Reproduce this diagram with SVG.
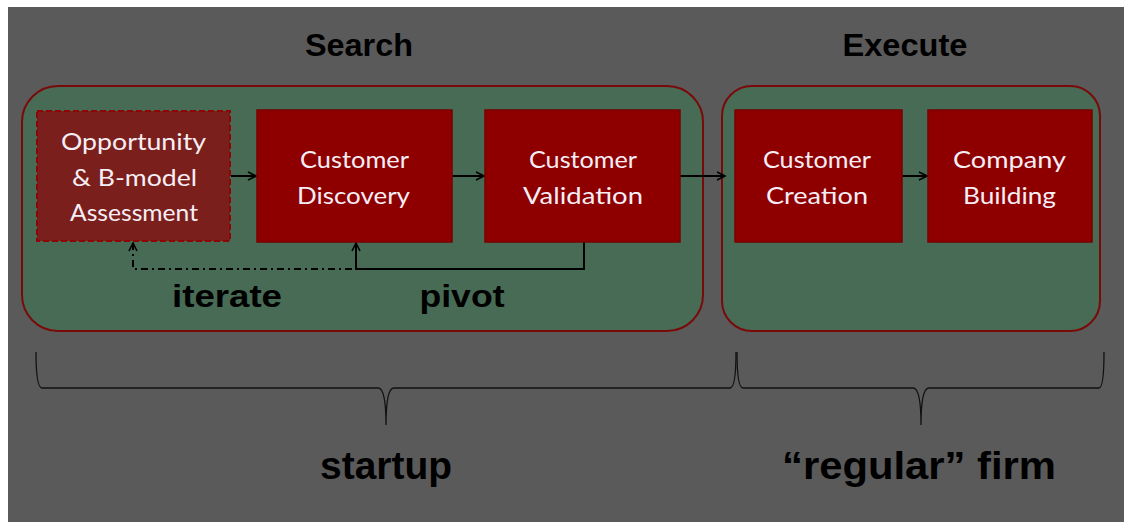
<svg xmlns="http://www.w3.org/2000/svg" width="1124" height="522" viewBox="0 0 1124 522">
<defs>
<style>
.bg{fill:#5a5a5a}
.cont{fill:#476b55;stroke:#7a0a0a;stroke-width:2}
.box{fill:#8e0000;stroke:#7a0000;stroke-width:1.5}
.boxd{fill:#7a1f1b;stroke:#8e0505;stroke-width:2;stroke-dasharray:6 3}
.bt{font-family:Lato,"Noto Sans",sans-serif;font-size:24px;fill:#f6eef6;text-anchor:middle}
.hd{font-family:"Liberation Sans",Arial,sans-serif;font-weight:bold;font-size:32px;fill:#000;text-anchor:middle}
.lb{font-family:"Liberation Sans",Arial,sans-serif;font-weight:bold;font-size:31px;fill:#000;text-anchor:middle}
.bl{font-family:"Liberation Sans",Arial,sans-serif;font-weight:bold;font-size:38px;fill:#000;text-anchor:middle}
.cn{stroke:#000;stroke-width:2;fill:none}
.br{stroke:#111;stroke-width:1.3;fill:none}
</style>
<marker id="ah" viewBox="0 0 10 10" refX="9" refY="5" markerWidth="10" markerHeight="10" markerUnits="userSpaceOnUse" orient="auto">
<path d="M1,1 L9,5 L1,9" fill="none" stroke="#000" stroke-width="1.6"/>
</marker>
</defs>
<rect x="0" y="0" width="1124" height="522" fill="#ffffff"/>
<rect class="bg" x="8" y="7" width="1116" height="515"/>
<text class="hd" x="359" y="56" textLength="108" lengthAdjust="spacingAndGlyphs">Search</text>
<text class="hd" x="905" y="56" textLength="125" lengthAdjust="spacingAndGlyphs">Execute</text>
<g id="search">
<rect class="cont" x="22" y="86" width="681" height="245" rx="36" ry="36"/>
</g>
<g id="execute">
<rect class="cont" x="722" y="86" width="378" height="245" rx="30" ry="30"/>
</g>
<g id="connectors">
<line class="cn" x1="231" y1="176" x2="256" y2="176" marker-end="url(#ah)"/>
<line class="cn" x1="452" y1="176" x2="484" y2="176" marker-end="url(#ah)"/>
<line class="cn" x1="680" y1="176" x2="725" y2="176" marker-end="url(#ah)"/>
<line class="cn" x1="902" y1="176" x2="927" y2="176" marker-end="url(#ah)"/>
<polyline class="cn" points="584,242 584,269 356,269 356,243" marker-end="url(#ah)"/>
<polyline class="cn" points="352,269 133,269 133,243" stroke-dasharray="7 4 2 4" marker-end="url(#ah)"/>
</g>
<g id="opportunity">
<rect class="boxd" x="37" y="111" width="193" height="130"/>
<text class="bt" x="133.5" y="150" textLength="145" lengthAdjust="spacingAndGlyphs">Opportunity</text>
<text class="bt" x="134.5" y="186" textLength="125" lengthAdjust="spacingAndGlyphs">&amp; B-model</text>
<text class="bt" x="134" y="221" textLength="128" lengthAdjust="spacingAndGlyphs">Assessment</text>
</g>
<g id="discovery">
<rect class="box" x="257" y="110" width="195" height="132"/>
<text class="bt" x="354.5" y="168" textLength="109" lengthAdjust="spacingAndGlyphs">Customer</text>
<text class="bt" x="353.5" y="204" textLength="113" lengthAdjust="spacingAndGlyphs">Discovery</text>
</g>
<g id="validation">
<rect class="box" x="485" y="110" width="195" height="132"/>
<text class="bt" x="583" y="168" textLength="108" lengthAdjust="spacingAndGlyphs">Customer</text>
<text class="bt" x="583" y="204" textLength="120" lengthAdjust="spacingAndGlyphs">Validation</text>
</g>
<g id="creation">
<rect class="box" x="735" y="110" width="167" height="132"/>
<text class="bt" x="817" y="168" textLength="108" lengthAdjust="spacingAndGlyphs">Customer</text>
<text class="bt" x="817" y="204" textLength="102" lengthAdjust="spacingAndGlyphs">Creation</text>
</g>
<g id="building">
<rect class="box" x="928" y="110" width="164" height="132"/>
<text class="bt" x="1009.5" y="168" textLength="113" lengthAdjust="spacingAndGlyphs">Company</text>
<text class="bt" x="1009.5" y="204" textLength="93" lengthAdjust="spacingAndGlyphs">Building</text>
</g>
<text class="lb" x="227" y="307" textLength="110" lengthAdjust="spacingAndGlyphs">iterate</text>
<text class="lb" x="462" y="307" textLength="85" lengthAdjust="spacingAndGlyphs">pivot</text>
<g id="braces">
<path class="br" d="M36,352 Q36,388 42,388 L378,388 Q386,388 386,425 Q386,388 394,388 L730,388 Q736,388 736,352"/>
<path class="br" d="M737,352 Q737,388 743,388 L913,388 Q921,388 921,425 Q921,388 929,388 L1099,388 Q1104,388 1104,352"/>
</g>
<text class="bl" x="386" y="479" textLength="132" lengthAdjust="spacingAndGlyphs">startup</text>
<text class="bl" x="919" y="479" textLength="274" lengthAdjust="spacingAndGlyphs">“regular” firm</text>
</svg>
